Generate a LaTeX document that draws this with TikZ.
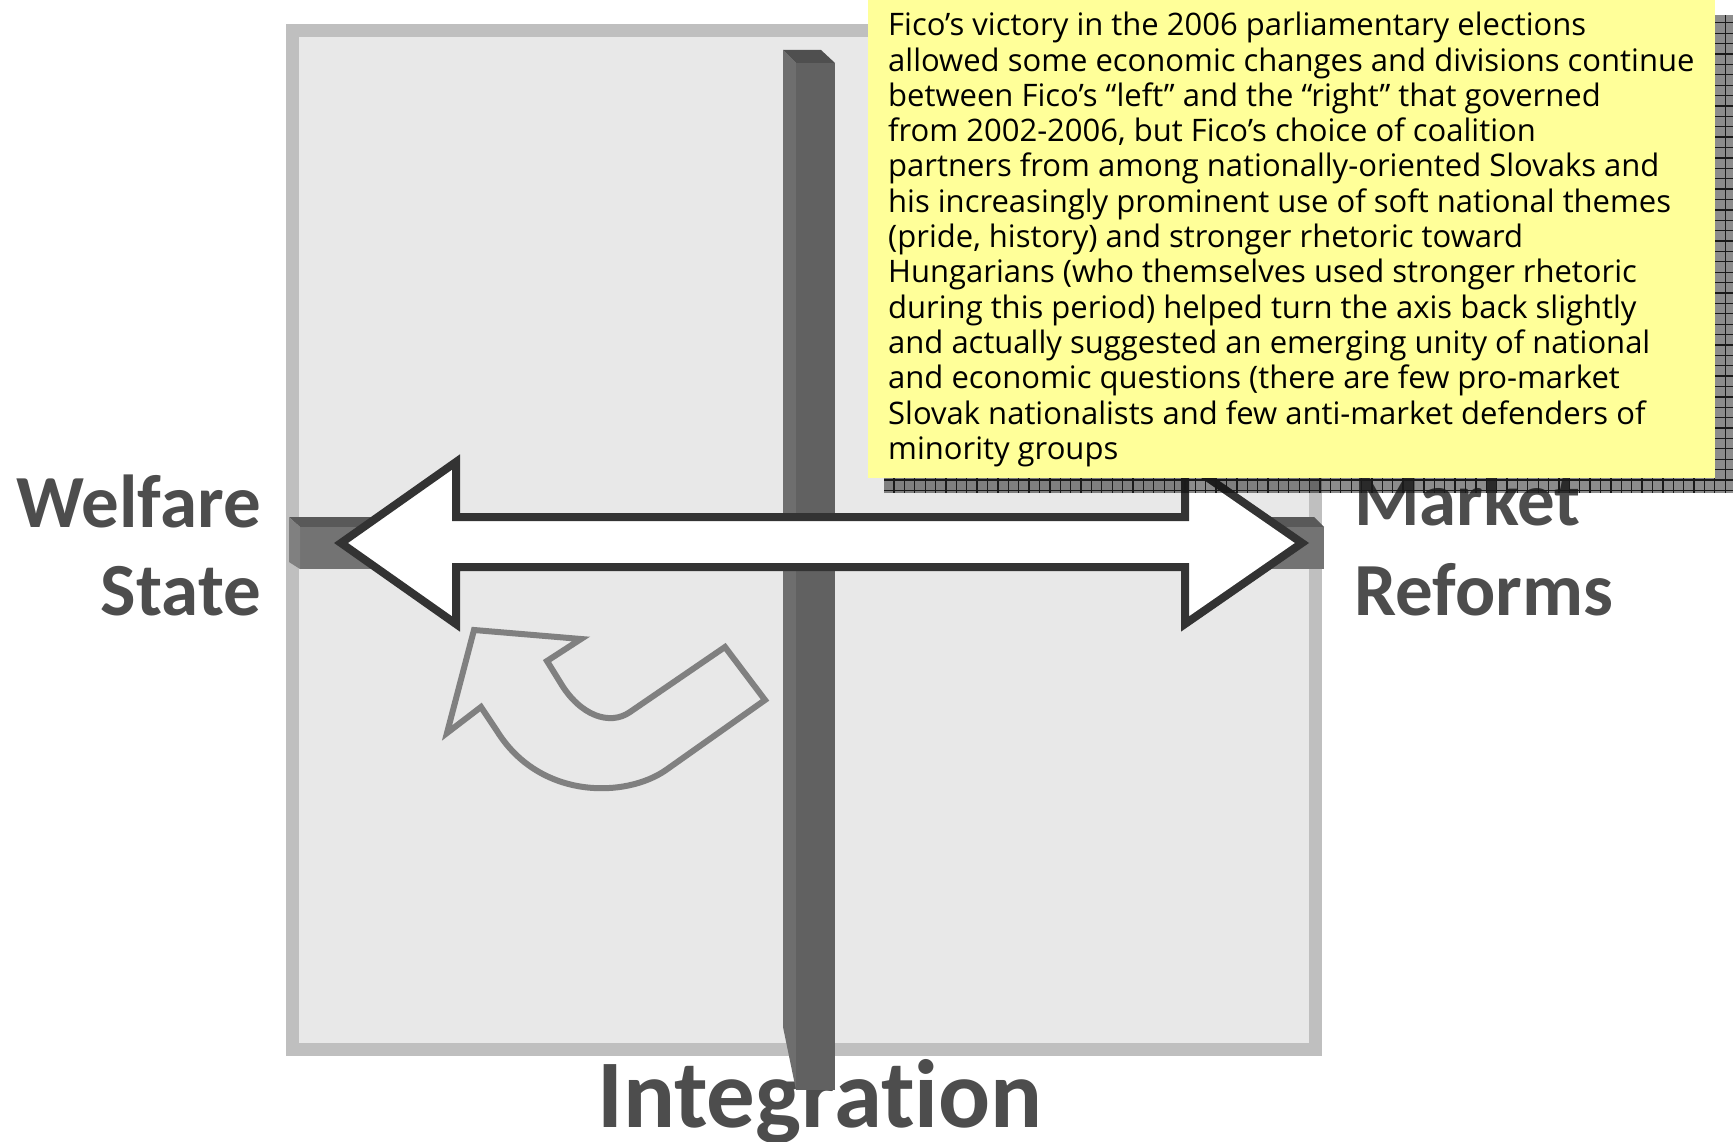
\documentclass[tikz,border=0pt]{standalone}
\usepackage{fontspec}
\setmainfont{Carlito}
\newfontfamily\labelfont[Ligatures=NoCommon]{Carlito}
\newfontfamily\notefont[Ligatures=NoCommon]{Open Sans}

\definecolor{panelfill}{HTML}{E8E8E8}
\definecolor{panelline}{HTML}{BFBFBF}
\definecolor{bartop}{HTML}{595959}
\definecolor{barfront}{HTML}{737373}
\definecolor{barend}{HTML}{808080}
\definecolor{vbartop}{HTML}{4F4F4F}
\definecolor{vbarside}{HTML}{6E6E6E}
\definecolor{vbarfront}{HTML}{616161}
\definecolor{labelgray}{HTML}{4D4D4D}
\definecolor{arrowline}{HTML}{333333}
\definecolor{turnline}{HTML}{808080}
\definecolor{notefill}{HTML}{FFFF99}
\definecolor{gridline}{HTML}{1A1A1A}

\tikzset{
  axislabel/.style={inner sep=0, text=labelgray,
    font=\labelfont\bfseries\fontsize{75}{90}\selectfont},
  bigarrow/.style={draw=arrowline, fill=white, line width=8pt, line join=miter},
  turnarrow/.style={draw=turnline, line width=6pt, line join=miter},
  notetext/.style={align=left, inner sep=0, text=black,
    font=\notefont\fontsize{31}{35.3}\selectfont},
}

\begin{document}
\begin{tikzpicture}[x=1pt, y=-1pt]
\useasboundingbox (0,0) rectangle (1733,1142);

% quadrant panel
\draw[panelline, fill=panelfill, line width=13pt] (292,31) rectangle (1315,1049);

% horizontal axis bar (3-D look)
\fill[bartop]   (289,517) -- (1314,517) -- (1324,527) -- (300,527) -- cycle;
\fill[barfront] (300,527) -- (1324,527) -- (1324,569) -- (300,569) -- cycle;
\fill[barend]   (289,517) -- (300,527) -- (300,569) -- (289,562) -- cycle;

% axis labels
\node[axislabel, anchor=base east] (welfare) at (261,527) {Welfare};
\node[axislabel, anchor=base east] (state)   at (261,615) {State};
\node[axislabel, anchor=base west] (market)  at (1354,525) {Market};
\node[axislabel, anchor=base west] (reforms) at (1354,615) {Reforms};
\node[axislabel, anchor=base, font=\labelfont\bfseries\fontsize{97}{116}\selectfont]
  (integration) at (820,1127) {Integration};

% vertical axis bar (3-D look)
\fill[vbarside]  (783,50) -- (796,63) -- (796,1090) -- (783,1027) -- cycle;
\fill[vbarfront] (796,63) -- (835,63) -- (835,1090) -- (796,1090) -- cycle;
\fill[vbartop]   (783,50) -- (821,50) -- (835,63) -- (796,63) -- cycle;

% double-headed arrow along the horizontal axis
\draw[bigarrow] (341,543) -- (456,462) -- (456,517) -- (1185,517) -- (1185,462)
  -- (1302,543) -- (1185,624) -- (1185,567) -- (456,567) -- (456,624) -- cycle;

% curved arrow turning back toward the welfare side
\draw[turnarrow] (474,630) -- (581,639) -- (547,661) -- (560,682)
  .. controls (580,716) and (610,726) .. (630,712) -- (725,647)
  -- (765,700) -- (666,770)
  .. controls (626,798) and (540,800) .. (497,731) -- (481,707)
  -- (447,733) -- cycle;

% drop shadow of the note
\begin{scope}
  \clip (884,15) rectangle (1733,493);
  \fill[black, opacity=0.45] (884,15) rectangle (1733,493);
  \foreach \i in {0,...,81}
    \draw[gridline, line width=1.3pt] ({894+10.39*\i},15) -- ({894+10.39*\i},493);
  \foreach \j in {-1,0,...,46}
    \draw[gridline, line width=1.3pt] (884,{480-10.39*\j}) -- (1733,{480-10.39*\j});
\end{scope}

% the note
\fill[notefill] (868,0) rectangle (1715,478);
\node[notetext, anchor=north west] (notebody) at (888,12) {%
Fico’s victory in the 2006 parliamentary elections\\
allowed some economic changes and divisions continue\\
between Fico’s “left” and the “right” that governed\\
from 2002-2006, but Fico’s choice of coalition\\
partners from among nationally-oriented Slovaks and\\
his increasingly prominent use of soft national themes\\
(pride, history) and stronger rhetoric toward\\
Hungarians (who themselves used stronger rhetoric\\
during this period) helped turn the axis back slightly\\
and actually suggested an emerging unity of national\\
and economic questions (there are few pro-market\\
Slovak nationalists and few anti-market defenders of\\
minority groups};
\end{tikzpicture}
\end{document}
